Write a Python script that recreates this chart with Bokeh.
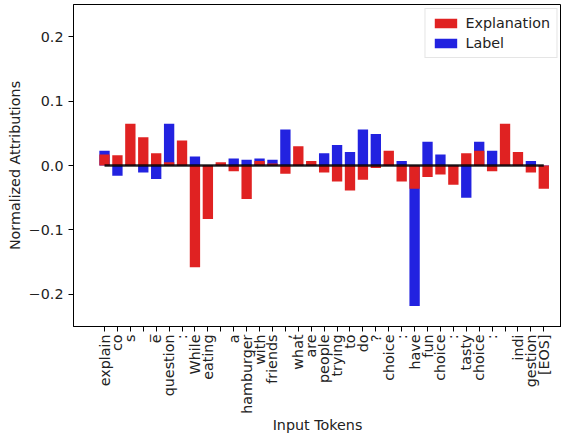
from bokeh.plotting import figure
from bokeh.models import FixedTicker, Legend, LegendItem, Range1d
from bokeh.embed import file_html
from bokeh.resources import INLINE

tokens = ["explain", "co", "s", "_", "e", "question", ":", "While", "eating", "",
          "a", "hamburger", "with", "friends", ",", "what", "are", "people", "trying",
          "to", "do", "?", "choice", ":", "have", "fun", "choice", ":", "tasty",
          "choice", ":", "", "indi", "gestion", "[EOS]"]

explanation = [0.017, 0.016, 0.065, 0.044, 0.019, 0.005, 0.039, -0.158, -0.083, 0.005,
               -0.009, -0.052, 0.007, 0.003, -0.013, 0.030, 0.007, -0.011, -0.025,
               -0.039, -0.022, -0.004, 0.023, -0.025, -0.036, -0.018, -0.014, -0.030,
               0.019, 0.023, -0.009, 0.065, 0.021, -0.011, -0.036]

label = [0.023, -0.016, 0.002, -0.011, -0.021, 0.065, 0.002, 0.014, -0.002, 0.002,
         0.011, 0.009, 0.011, 0.009, 0.056, 0.002, 0.002, 0.019, 0.032, 0.021,
         0.056, 0.049, 0.002, 0.007, -0.218, 0.037, 0.017, -0.002, -0.050, 0.037,
         0.023, 0.002, 0.002, 0.007, -0.002]

y_ticks = [-0.2, -0.1, 0.0, 0.1, 0.2]
y_tick_labels = ["\u22120.2", "\u22120.1", "0.0", "0.1", "0.2"]

FONT = "DejaVu Sans"
FS = "14.3px"
RED = "#e02222"
BLUE = "#2222e0"

x = list(range(len(tokens)))

p = figure(width=561, height=435, output_backend="svg", toolbar_location=None,
           x_range=Range1d(-2.4, 35.37), y_range=Range1d(-0.25, 0.25),
           min_border_left=73, min_border_right=0, min_border_top=4,
           min_border_bottom=100)

r_blue = p.vbar(x=x, top=label, width=0.8, fill_color=BLUE, line_color=None)
r_red = p.vbar(x=x, top=explanation, width=0.8, fill_color=RED, line_color=None)
p.line(x=[x[0], x[-1]], y=[0, 0], line_color="black", line_width=2.5, line_alpha=0.85)

p.xgrid.visible = False
p.ygrid.visible = False
p.outline_line_color = "black"
p.outline_line_width = 1

for ax in (p.xaxis[0], p.yaxis[0]):
    ax.axis_line_color = "black"
    ax.major_tick_line_color = "black"
    ax.minor_tick_line_color = None
    ax.major_tick_in = 0
    ax.major_tick_out = 5
    ax.major_label_text_font = FONT
    ax.major_label_text_font_size = FS
    ax.major_label_text_color = "#222222"
    ax.axis_label_text_font = FONT
    ax.axis_label_text_font_size = FS
    ax.axis_label_text_font_style = "normal"
    ax.axis_label_text_color = "#222222"

p.xaxis.major_label_standoff = 3
p.xaxis.axis_label_standoff = 0
p.yaxis.major_label_standoff = 5
p.yaxis.axis_label_standoff = 3

p.xaxis.ticker = FixedTicker(ticks=x)
p.xaxis.major_label_overrides = {i: t for i, t in zip(x, tokens)}
p.xaxis.major_label_orientation = 3.14159265 / 2
p.xaxis.axis_label = "Input Tokens"

p.yaxis.ticker = FixedTicker(ticks=y_ticks)
p.yaxis.major_label_overrides = {v: s for v, s in zip(y_ticks, y_tick_labels)}
p.yaxis.axis_label = "Normalized Attributions"

legend = Legend(items=[LegendItem(label="Explanation", renderers=[r_red]),
                       LegendItem(label="Label", renderers=[r_blue])],
                location="top_right")
legend.label_text_font = FONT
legend.label_text_font_size = FS
legend.label_text_color = "#222222"
legend.glyph_width = 28
legend.glyph_height = 12
legend.spacing = 4
legend.padding = 6
legend.margin = 4
legend.label_standoff = 6
legend.border_line_color = "#cccccc"
legend.border_line_width = 1
p.add_layout(legend)

open("out.html", "w").write(file_html(p, INLINE))
